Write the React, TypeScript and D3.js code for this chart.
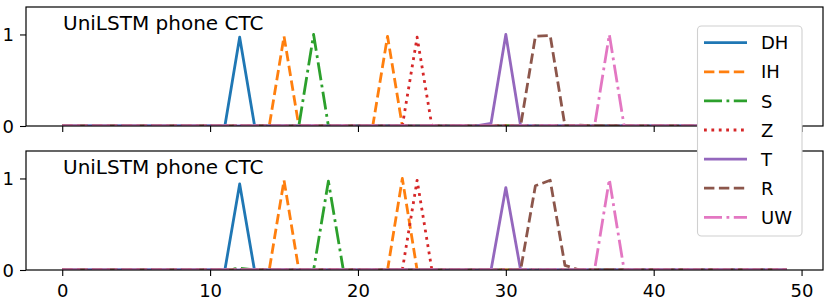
import { useEffect, useRef } from 'react';
import * as d3 from 'd3';

// phone labels, styles follow matplotlib defaults (tab10)
const phones = ['DH', 'IH', 'S', 'Z', 'T', 'R', 'UW'];
const colors = ['#1f77b4', '#ff7f0e', '#2ca02c', '#d62728', '#9467bd', '#8c564b', '#e377c2'];
const dashes = ['', '10.4,4.5', '18,4.5,2.8,4.5', '2.8,4.6', '', '10.4,4.5', '18,4.5,2.8,4.5'];

const numFrames = 50;
const xTicks = [0, 10, 20, 30, 40, 50];
const yTicks = [0, 1];
const panelTitle = 'UniLSTM phone CTC';

// posterior per frame, only the frames that are not 0
const topPeaks = {
  DH: { 12: 0.97, 13: 0.01 },
  IH: { 15: 0.98, 22: 0.98 },
  S: { 17: 1.0 },
  Z: { 24: 0.97 },
  T: { 29: 0.03, 30: 1.0 },
  R: { 32: 0.98, 33: 0.99, 35: 0.01 },
  UW: { 37: 1.0 },
};

const bottomPeaks = {
  DH: { 12: 0.94 },
  IH: { 15: 0.98, 23: 1.0 },
  S: { 12: 0.02, 18: 0.97, 19: 0.01 },
  Z: { 24: 0.98 },
  T: { 30: 0.9 },
  R: { 32: 0.92, 33: 0.98, 34: 0.05 },
  UW: { 37: 0.99 },
};

const W = 830;
const H = 304;
const left = 26;
const right = 823;
const lw = 2.8;
const panels = [
  { top: 7, bottom: 126, peaks: topPeaks, labels: false },
  { top: 151, bottom: 270, peaks: bottomPeaks, labels: true },
];

const font = 'DejaVu Sans, sans-serif';

const App = () => {
  const svgRef = useRef(null);

  useEffect(() => {
    const svg = d3.select(svgRef.current);
    svg.selectAll('*').remove();

    const x = d3.scaleLinear()
      .domain([-0.05 * (numFrames - 1), (numFrames - 1) * 1.05])
      .range([left, right]);

    panels.forEach((p, pi) => {
      const y = d3.scaleLinear().domain([0, 1.3]).range([p.bottom, p.top]);
      const g = svg.append('g');

      const clipId = `clip${pi}`;
      svg.append('clipPath').attr('id', clipId)
        .append('rect')
        .attr('x', left).attr('y', p.top)
        .attr('width', right - left).attr('height', p.bottom - p.top);

      const line = d3.line<number>()
        .x((d, i) => x(i))
        .y(d => y(d));

      phones.forEach((ph, k) => {
        const vals = d3.range(numFrames).map(i => p.peaks[ph][i] ?? 0);
        g.append('path')
          .datum(vals)
          .attr('clip-path', `url(#${clipId})`)
          .attr('d', line)
          .attr('fill', 'none')
          .attr('stroke', colors[k])
          .attr('stroke-width', lw)
          .attr('stroke-linejoin', 'round')
          .attr('stroke-dasharray', dashes[k] || null);
      });

      // axes
      const xAxis = d3.axisBottom(x).tickValues(xTicks).tickSize(6).tickPadding(4)
        .tickFormat(p.labels ? d3.format('d') : () => '');
      const xg = g.append('g').attr('transform', `translate(0,${p.bottom})`).call(xAxis);
      xg.select('.domain').remove();

      const yAxis = d3.axisLeft(y).tickValues(yTicks).tickSize(6).tickPadding(6).tickFormat(d3.format('d'));
      const yg = g.append('g').attr('transform', `translate(${left},0)`).call(yAxis);
      yg.select('.domain').remove();

      [xg, yg].forEach(a => {
        a.selectAll('line').attr('stroke', '#000').attr('stroke-width', 1.1);
        a.selectAll('text').attr('font-family', font).attr('font-size', 18).attr('fill', '#000');
      });
      yg.selectAll('text').attr('dy', '0.36em');
      xg.selectAll('text').attr('dy', '0.95em');

      g.append('rect')
        .attr('x', left).attr('y', p.top)
        .attr('width', right - left).attr('height', p.bottom - p.top)
        .attr('fill', 'none').attr('stroke', '#000').attr('stroke-width', 1.2);

      g.append('text')
        .attr('x', 63).attr('y', p.top + 23)
        .attr('font-family', font).attr('font-size', 20)
        .text(panelTitle);
    });

    // legend over both panels
    const lg = svg.append('g');
    lg.append('rect')
      .attr('x', 697.5).attr('y', 26)
      .attr('width', 104.5).attr('height', 210)
      .attr('rx', 4)
      .attr('fill', '#fff').attr('stroke', '#d0d0d0').attr('stroke-width', 1.1);

    phones.forEach((ph, k) => {
      const cy = 42.7 + k * 29.1;
      lg.append('line')
        .attr('x1', 704).attr('x2', 747)
        .attr('y1', cy).attr('y2', cy)
        .attr('stroke', colors[k]).attr('stroke-width', lw)
        .attr('stroke-dasharray', dashes[k] || null);
      lg.append('text')
        .attr('x', 761).attr('y', cy + 6.6)
        .attr('font-family', font).attr('font-size', 18)
        .text(ph);
    });
  }, []);

  return (
    <svg ref={svgRef} width={W} height={H}
      style={{ position: 'fixed', left: 0, top: 0, background: '#fff' }}></svg>
  );
};

export default App;
